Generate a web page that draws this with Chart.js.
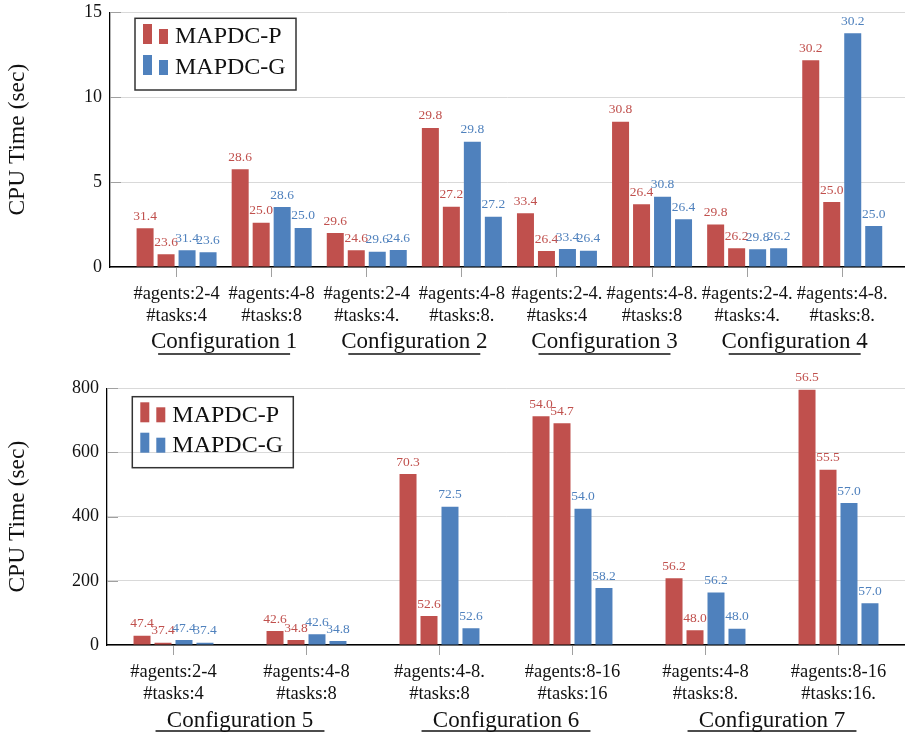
<!DOCTYPE html>
<html>
<head>
<meta charset="utf-8">
<script src="https://cdn.jsdelivr.net/npm/chart.js@4.4.0/dist/chart.umd.min.js"></script>
<style>
body { margin: 0; background: #fff; }
#top { position: absolute; left: 0; top: 0; width: 905px; height: 370px; }
#bottom { position: absolute; left: 0; top: 370px; width: 905px; height: 363px; }
</style>
</head>
<body>
<div id="top"><canvas id="c1"></canvas></div>
<div id="bottom"><canvas id="c2"></canvas></div>
<script>
// top panel: configurations 1-4
const topCats = ['#agents:2-4\n#tasks:4', '#agents:4-8\n#tasks:8', '#agents:2-4\n#tasks:4.', '#agents:4-8\n#tasks:8.',
                 '#agents:2-4.\n#tasks:4', '#agents:4-8.\n#tasks:8', '#agents:2-4.\n#tasks:4.', '#agents:4-8.\n#tasks:8.'];
const topGroups = ['Configuration 1', 'Configuration 2', 'Configuration 3', 'Configuration 4'];
const topTicks = [0, 5, 10, 15];
const topP1 = [2.28, 5.75, 2.00, 8.19, 3.16, 8.56, 2.51, 12.17];
const topP2 = [0.75, 2.61, 0.98, 3.55, 0.94, 3.69, 1.10, 3.83];
const topG1 = [0.98, 3.53, 0.90, 7.38, 1.06, 4.14, 1.04, 13.76];
const topG2 = [0.87, 2.30, 1.00, 2.96, 0.96, 2.81, 1.10, 2.41];
const topP1Lbl = ['31.4', '28.6', '29.6', '29.8', '33.4', '30.8', '29.8', '30.2'];
const topP2Lbl = ['23.6', '25.0', '24.6', '27.2', '26.4', '26.4', '26.2', '25.0'];
const topG1Lbl = ['31.4', '28.6', '29.6', '29.8', '33.4', '30.8', '29.8', '30.2'];
const topG2Lbl = ['23.6', '25.0', '24.6', '27.2', '26.4', '26.4', '26.2', '25.0'];

// bottom panel: configurations 5-7
const botCats = ['#agents:2-4\n#tasks:4', '#agents:4-8\n#tasks:8', '#agents:4-8.\n#tasks:8',
                 '#agents:8-16\n#tasks:16', '#agents:4-8\n#tasks:8.', '#agents:8-16\n#tasks:16.'];
const botGroups = ['Configuration 5', 'Configuration 6', 'Configuration 7'];
const botTicks = [0, 200, 400, 600, 800];
const botP1 = [29, 43.6, 533, 712.6, 207.8, 795.6];
const botP2 = [7, 15.6, 90.4, 691, 45.8, 546.3];
const botG1 = [15.6, 33.2, 431, 424.8, 164, 442.5];
const botG2 = [7, 12.5, 52, 177.6, 50.8, 130];
const botP1Lbl = ['47.4', '42.6', '70.3', '54.0', '56.2', '56.5'];
const botP2Lbl = ['37.4', '34.8', '52.6', '54.7', '48.0', '55.5'];
const botG1Lbl = ['47.4', '42.6', '72.5', '54.0', '56.2', '57.0'];
const botG2Lbl = ['37.4', '34.8', '52.6', '58.2', '48.0', '57.0'];

const RED = '#C0504D', BLUE = '#4F81BD';
const SERIF = "'Liberation Serif', 'DejaVu Serif', serif";

// value labels over bars
const barLabels = {
  id: 'barLabels',
  afterDatasetsDraw(chart) {
    const ctx = chart.ctx;
    ctx.save();
    ctx.font = '13.5px ' + SERIF;
    ctx.textAlign = 'center';
    ctx.textBaseline = 'middle';
    chart.data.datasets.forEach((ds, i) => {
      const meta = chart.getDatasetMeta(i);
      ctx.fillStyle = ds.backgroundColor;
      meta.data.forEach((bar, j) => {
        ctx.fillText(ds.valueLabels[j], bar.x, bar.y - 12);
      });
    });
    ctx.restore();
  }
};

// inward y ticks, group captions, legend box
const decor = {
  id: 'decor',
  afterDraw(chart, args, o) {
    const ctx = chart.ctx, ca = chart.chartArea;
    const x = chart.scales.x, y = chart.scales.y;
    ctx.save();
    ctx.strokeStyle = '#a0a0a0';
    ctx.lineWidth = 1;
    y.ticks.forEach(t => {
      if (t.value == 0) return;
      const py = Math.round(y.getPixelForValue(t.value)) + 0.5;
      ctx.beginPath(); ctx.moveTo(ca.left, py); ctx.lineTo(ca.left + 11, py); ctx.stroke();
    });

    ctx.fillStyle = '#111';
    ctx.strokeStyle = '#111';
    ctx.font = '23px ' + SERIF;
    ctx.textAlign = 'center';
    ctx.textBaseline = 'middle';
    o.groups.forEach((name, k) => {
      const p0 = x.getPixelForValue(2 * k), p1 = x.getPixelForValue(2 * k + 1);
      const c = (p0 + p1) / 2, half = (p1 - p0) * o.half;
      ctx.fillText(name, c, ca.bottom + o.textY);
      ctx.lineWidth = 1.5;
      ctx.beginPath(); ctx.moveTo(c - half, ca.bottom + o.lineY); ctx.lineTo(c + half, ca.bottom + o.lineY); ctx.stroke();
    });

    // legend
    const L = o.legend;
    ctx.strokeStyle = '#333';
    ctx.lineWidth = 1.5;
    ctx.strokeRect(L.x, L.y, L.w, L.h);
    ctx.font = '24px ' + SERIF;
    ctx.textAlign = 'left';
    [['MAPDC-P', RED, L.row1], ['MAPDC-G', BLUE, L.row2]].forEach(r => {
      const base = r[2];
      ctx.fillStyle = r[1];
      ctx.fillRect(L.x + 8, base - 20, 9, 20);
      ctx.fillRect(L.x + 24, base - 15, 9, 15);
      ctx.fillStyle = '#111';
      ctx.fillText(r[0], L.x + 40, base - 7);
    });
    ctx.restore();
  }
};

function datasets(p1, p2, g1, g2, l1, l2, l3, l4, asXY) {
  const mk = (vals) => asXY ? vals.map((v, i) => ({ x: i, y: v })) : vals;
  const base = { borderWidth: 0, categoryPercentage: 0, barPercentage: 0.81 };
  return [
    Object.assign({ label: 'MAPDC-P', data: mk(p1), backgroundColor: RED, valueLabels: l1 }, base),
    Object.assign({ label: 'MAPDC-P', data: mk(p2), backgroundColor: RED, valueLabels: l2 }, base),
    Object.assign({ label: 'MAPDC-G', data: mk(g1), backgroundColor: BLUE, valueLabels: l3 }, base),
    Object.assign({ label: 'MAPDC-G', data: mk(g2), backgroundColor: BLUE, valueLabels: l4 }, base)
  ];
}

function yAxis(max, ticks, width) {
  return {
    min: 0, max: max,
    afterBuildTicks: s => { s.ticks = ticks.map(v => ({ value: v })); },
    afterFit: s => { s.width = width; s.paddingTop = 0; s.paddingBottom = 0; },
    grid: { color: '#d9d9d9', drawTicks: false },
    border: { color: '#000', width: 1.3 },
    ticks: { padding: 8, color: '#111', font: { family: SERIF, size: 18 } },
    title: { display: true, text: 'CPU Time (sec)', color: '#111', font: { family: SERIF, size: 23.5 }, padding: { top: 4, bottom: 0 } }
  };
}

function xTicks(cats) {
  return {
    autoSkip: false, maxRotation: 0, padding: 6, color: '#111',
    font: { family: SERIF, size: 18.5 },
    callback: function (v, i) { return cats[i].split('\n'); }
  };
}

const xGrid = { offset: false, drawOnChartArea: false, drawTicks: true, tickLength: 10, color: '#a0a0a0' };

const topDs = datasets(topP1, topP2, topG1, topG2, topP1Lbl, topP2Lbl, topG1Lbl, topG2Lbl, true);
topDs.forEach(d => d.categoryPercentage = 0.883);

new Chart(document.getElementById('c1'), {
  type: 'bar',
  data: { datasets: topDs },
  plugins: [barLabels, decor],
  options: {
    responsive: true, maintainAspectRatio: false, animation: false,
    layout: { padding: { top: 12.3, left: 0, right: 0, bottom: 0 } },
    plugins: {
      legend: { display: false }, tooltip: { enabled: false },
      decor: { groups: topGroups, half: 0.694, textY: 75, lineY: 87,
               legend: { x: 135, y: 18.3, w: 161, h: 71.7, row1: 44, row2: 75 } }
    },
    scales: {
      x: {
        type: 'linear', min: -0.7, max: 7.66, offset: false,
        afterBuildTicks: s => { s.ticks = topCats.map((c, i) => ({ value: i })); },
        afterFit: s => { s.height = 103; s.paddingLeft = 0; s.paddingRight = 0; },
        grid: xGrid,
        border: { color: '#000', width: 1.5 },
        ticks: xTicks(topCats)
      },
      y: yAxis(15, topTicks, 110)
    }
  }
});

const botDs = datasets(botP1, botP2, botG1, botG2, botP1Lbl, botP2Lbl, botG1Lbl, botG2Lbl, false);
botDs.forEach(d => d.categoryPercentage = 0.631);

new Chart(document.getElementById('c2'), {
  type: 'bar',
  data: { labels: botCats, datasets: botDs },
  plugins: [barLabels, decor],
  options: {
    responsive: true, maintainAspectRatio: false, animation: false,
    layout: { padding: { top: 18.3, left: 0, right: 0, bottom: 0 } },
    plugins: {
      legend: { display: false }, tooltip: { enabled: false },
      decor: { groups: botGroups, half: 0.635, textY: 76, lineY: 86,
               legend: { x: 132.3, y: 26.7, w: 161, h: 71, row1: 52.3, row2: 82.7 } }
    },
    scales: {
      x: {
        afterFit: s => { s.height = 88; s.paddingLeft = 0; s.paddingRight = 0; },
        grid: xGrid,
        border: { color: '#000', width: 1.5 },
        ticks: xTicks(botCats)
      },
      y: yAxis(800, botTicks, 107)
    }
  }
});
</script>
</body>
</html>
